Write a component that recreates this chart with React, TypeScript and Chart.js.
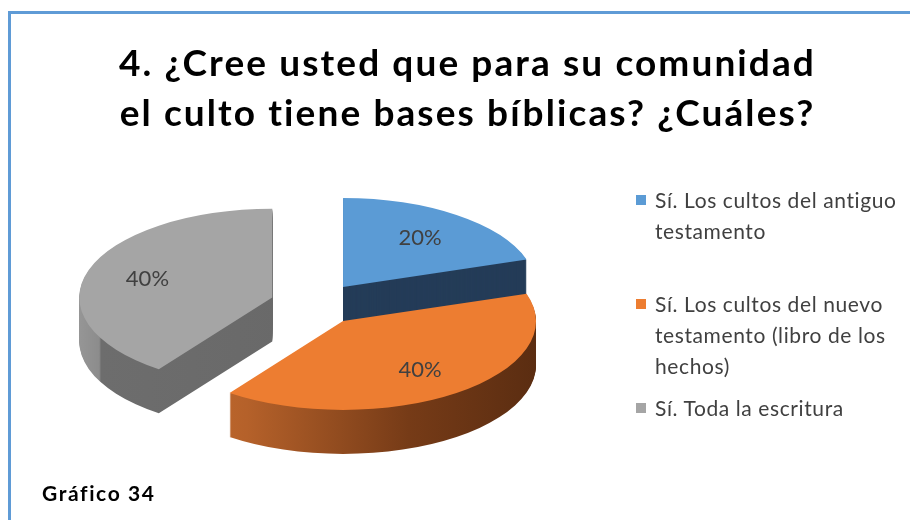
import React, { useEffect, useRef } from "react";
import { Chart, registerables } from "chart.js";

Chart.register(...registerables);

// ---- data ----
const CATEGORIES: string[][] = [
  ["Sí. Los cultos del antiguo", "testamento"],
  ["Sí. Los cultos del nuevo", "testamento (libro de los", "hechos)"],
  ["Sí. Toda la escritura"],
];
const VALUES = [20, 40, 40];
const PERCENT_LABELS = ["20%", "40%", "40%"];
const COLORS = ["#5b9bd5", "#ed7d31", "#a5a5a5"];
const TITLE_LINES = ["4. ¿Cree usted que para su comunidad", "el culto tiene bases bíblicas? ¿Cuáles?"];
const CAPTION = "Gráfico 34";

// ---- styling ----
const TILT = 0.46;
const EXPLODE = 46;
const DEPTH = 44;
const RADIUS = 193;
const LABEL_FRAC = 0.68;
const TEXT_COLOR = "#404040";
const FONT = "Lato, 'Open Sans', sans-serif";

function sideFill(ctx: CanvasRenderingContext2D, i: number, ax: number) {
  if (i === 0) return "#243c58";
  const g = ctx.createLinearGradient(ax - RADIUS, 0, ax + RADIUS, 0);
  if (i === 1) {
    g.addColorStop(0, "#c36b2e");
    g.addColorStop(0.18, "#b5612a");
    g.addColorStop(0.6, "#763b17");
    g.addColorStop(1, "#552a10");
  } else {
    g.addColorStop(0, "#ababab");
    g.addColorStop(0.165, "#8c8c8c");
    g.addColorStop(0.17, "#6d6d6d");
    g.addColorStop(1, "#666666");
  }
  return g;
}

const pie3d = {
  id: "pie3d",
  beforeDatasetsDraw(chart: any) {
    const ctx: CanvasRenderingContext2D = chart.ctx;
    const arcs = chart.getDatasetMeta(0).data as any[];
    if (!arcs.length) return false;
    const cx = arcs[0].x;
    const cy = arcs[0].y;
    ctx.save();
    ctx.translate(cx, cy);
    ctx.scale(1, TILT);
    ctx.translate(-cx, -cy);
    const drawPiece = (arc: any, fill: any, d: number) => {
      const mid = (arc.startAngle + arc.endAngle) / 2;
      const proxy = Object.create(arc);
      proxy.options = { ...arc.options, backgroundColor: fill, borderWidth: 0, offset: 0 };
      ctx.save();
      ctx.translate(Math.cos(mid) * EXPLODE, Math.sin(mid) * EXPLODE + d / TILT);
      arc.draw.call(proxy, ctx);
      ctx.restore();
    };
    const fills = arcs.map((arc, i) => {
      const mid = (arc.startAngle + arc.endAngle) / 2;
      return sideFill(ctx, i, arc.x + Math.cos(mid) * EXPLODE);
    });
    for (let d = DEPTH; d >= 1; d -= 1) {
      arcs.forEach((arc, i) => drawPiece(arc, fills[i], d));
    }
    arcs.forEach((arc, i) => drawPiece(arc, COLORS[i], 0));
    ctx.restore();

    // percentage labels
    ctx.save();
    ctx.fillStyle = TEXT_COLOR;
    ctx.font = `22px ${FONT}`;
    ctx.textAlign = "center";
    ctx.textBaseline = "middle";
    arcs.forEach((arc, i) => {
      const mid = (arc.startAngle + arc.endAngle) / 2;
      const dist = EXPLODE + LABEL_FRAC * arc.outerRadius;
      ctx.fillText(PERCENT_LABELS[i], cx + Math.cos(mid) * dist, cy + Math.sin(mid) * dist * TILT);
    });
    ctx.restore();
    return false;
  },
};

export default function App() {
  const ref = useRef<HTMLCanvasElement>(null);
  useEffect(() => {
    if (!ref.current) return;
    const chart = new Chart(ref.current, {
      type: "pie",
      data: {
        labels: CATEGORIES,
        datasets: [{ data: VALUES, backgroundColor: COLORS, borderWidth: 0 }],
      },
      options: {
        animation: false,
        responsive: false,
        events: [],
        radius: RADIUS,
        layout: { padding: { left: 0, right: 278, top: 88, bottom: 0 } },
        plugins: { legend: { display: false }, title: { display: false }, tooltip: { enabled: false } },
      } as any,
      plugins: [pie3d as any],
    });
    return () => chart.destroy();
  }, []);

  const legendTops = [184, 288, 392];
  return (
    <div style={{ position: "fixed", left: 0, top: 0, width: 910, height: 520, background: "#fff", overflow: "hidden" }}>
      <div style={{ position: "absolute", left: 8, top: 11, right: 0, bottom: 0, borderLeft: "3px solid #5f9bd6", borderTop: "3px solid #5f9bd6" }} />
      <canvas ref={ref} width={910} height={520} style={{ position: "absolute", left: 0, top: 0 }} />
      <div style={{ position: "absolute", left: 0, top: 37, width: 935, textAlign: "center", fontFamily: FONT, fontWeight: 700, fontSize: 37, letterSpacing: 2.1, lineHeight: "50px", color: "#000" }}>
        {TITLE_LINES.map((l, i) => (<div key={i}>{l}</div>))}
      </div>
      {CATEGORIES.map((lines, i) => (
        <div key={i} style={{ position: "absolute", left: 636, top: legendTops[i], fontFamily: FONT, fontSize: 21, letterSpacing: 0.6, lineHeight: "31px", color: TEXT_COLOR }}>
          <div style={{ position: "absolute", left: 0, top: 11, width: 10, height: 10, background: COLORS[i] }} />
          <div style={{ marginLeft: 19, whiteSpace: "nowrap" }}>
            {lines.map((l, j) => (<div key={j}>{l}</div>))}
          </div>
        </div>
      ))}
      <div style={{ position: "absolute", left: 42, top: 480, fontFamily: FONT, fontWeight: 700, fontSize: 21, letterSpacing: 1.6, lineHeight: "26px", color: "#000" }}>{CAPTION}</div>
    </div>
  );
}
